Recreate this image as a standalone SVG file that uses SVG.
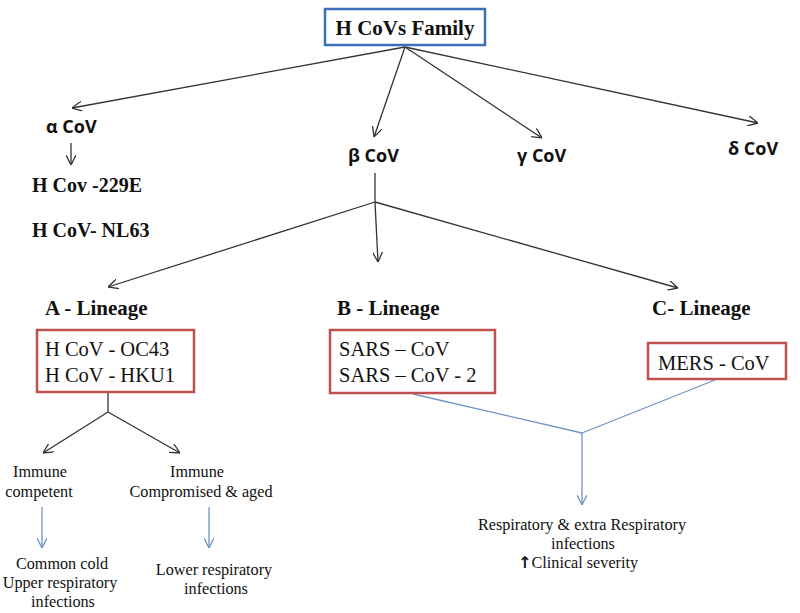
<svg xmlns="http://www.w3.org/2000/svg" width="800" height="613" viewBox="0 0 800 613">
<style>
.bs{font-family:"Liberation Serif","Times New Roman",serif;font-weight:bold;font-size:20px;fill:#111}
.bl{font-family:"Liberation Serif","Times New Roman",serif;font-weight:bold;font-size:21px;fill:#111}
.gk{font-family:"Open Sans","Liberation Sans",sans-serif;font-weight:bold;font-size:18px;fill:#111}
.bx{font-family:"Liberation Serif","Times New Roman",serif;font-size:20.5px;fill:#111}
.sm{font-family:"Liberation Serif","Times New Roman",serif;font-size:16.2px;fill:#111;text-anchor:middle}
.k{stroke:#333;stroke-width:1.3;fill:none;marker-end:url(#ak)}
.kn{stroke:#333;stroke-width:1.3;fill:none}
.b{stroke:#6f93c4;stroke-width:1.3;fill:none;marker-end:url(#ab)}
.bn{stroke:#6f93c4;stroke-width:1.3;fill:none}
.rbox{fill:#fff;stroke:#c0504d;stroke-width:2.5}
</style>
<defs>
<marker id="ak" viewBox="0 0 10 10" refX="10" refY="5" markerWidth="10" markerHeight="10" markerUnits="userSpaceOnUse" orient="auto">
<path d="M0,0 L10,5 L0,10" fill="none" stroke="#333" stroke-width="1.3"/>
</marker>
<marker id="ab" viewBox="0 0 10 10" refX="10" refY="5" markerWidth="10" markerHeight="10" markerUnits="userSpaceOnUse" orient="auto">
<path d="M0,0 L10,5 L0,10" fill="none" stroke="#6f93c4" stroke-width="1.3"/>
</marker>
</defs>
<rect width="800" height="613" fill="#fff"/>
<g id="connectors">
<line class="k" x1="405" y1="47" x2="72" y2="108"/>
<line class="k" x1="405" y1="47" x2="374" y2="137"/>
<line class="k" x1="405" y1="47" x2="542" y2="138"/>
<line class="k" x1="405" y1="47" x2="758" y2="123"/>
<line class="k" x1="71" y1="143" x2="71" y2="165"/>
<line class="kn" x1="375" y1="173" x2="375" y2="202"/>
<line class="k" x1="375" y1="202" x2="108" y2="287"/>
<line class="k" x1="375" y1="202" x2="378" y2="262"/>
<line class="k" x1="375" y1="202" x2="678" y2="288"/>
<line class="kn" x1="108" y1="393" x2="108" y2="412"/>
<line class="k" x1="108" y1="412" x2="43" y2="453"/>
<line class="k" x1="108" y1="412" x2="180" y2="453"/>
<line class="b" x1="42" y1="507" x2="42" y2="548"/>
<line class="b" x1="209" y1="507" x2="209" y2="548"/>
<line class="bn" x1="413" y1="394" x2="582" y2="433"/>
<line class="bn" x1="715" y1="380" x2="582" y2="433"/>
<line class="b" x1="582" y1="433" x2="582" y2="505"/>
</g>
<g id="family">
<rect x="325" y="9" width="160" height="36" fill="#fff" stroke="#3d6fb6" stroke-width="2.5"/>
<text class="bl" x="405" y="35" text-anchor="middle">H CoVs Family</text>
</g>
<g id="alpha"><text class="gk" x="46" y="133">α CoV</text></g>
<g id="beta"><text class="gk" x="348" y="162">β CoV</text></g>
<g id="gamma"><text class="gk" x="517" y="162">γ CoV</text></g>
<g id="delta"><text class="gk" x="728" y="155">δ CoV</text></g>
<g id="hcov229e"><text class="bs" x="32" y="192">H Cov -229E</text></g>
<g id="hcovnl63"><text class="bs" x="32" y="237">H CoV- NL63</text></g>
<g id="alineage"><text class="bl" x="45" y="315">A - Lineage</text></g>
<g id="blineage"><text class="bl" x="337" y="315">B - Lineage</text></g>
<g id="clineage"><text class="bl" x="652" y="315">C- Lineage</text></g>
<g id="abox">
<rect class="rbox" x="37" y="330" width="157" height="62"/>
<text class="bx" x="45" y="356">H CoV - OC43</text>
<text class="bx" x="45" y="382">H CoV - HKU1</text>
</g>
<g id="bbox">
<rect class="rbox" x="330" y="330" width="165" height="63"/>
<text class="bx" x="339" y="356">SARS – CoV</text>
<text class="bx" x="339" y="382">SARS – CoV - 2</text>
</g>
<g id="cbox">
<rect class="rbox" x="648" y="343" width="138" height="36"/>
<text class="bx" x="658" y="370">MERS - CoV</text>
</g>
<g id="competent">
<text class="sm" x="40" y="477">Immune</text>
<text class="sm" x="39" y="497">competent</text>
</g>
<g id="compromised">
<text class="sm" x="197" y="477">Immune</text>
<text class="sm" x="201" y="497">Compromised &amp; aged</text>
</g>
<g id="upper">
<text class="sm" x="62" y="569">Common cold</text>
<text class="sm" x="60" y="588">Upper respiratory</text>
<text class="sm" x="63" y="607">infections</text>
</g>
<g id="lower">
<text class="sm" x="214" y="575">Lower respiratory</text>
<text class="sm" x="216" y="594">infections</text>
</g>
<g id="resp">
<text class="sm" x="582" y="530">Respiratory &amp; extra Respiratory</text>
<text class="sm" x="583" y="549">infections</text>
<text class="sm" x="578" y="568"><tspan font-weight="bold" font-family="DejaVu Sans, sans-serif">↑</tspan>Clinical  severity</text>
</g>
</svg>
